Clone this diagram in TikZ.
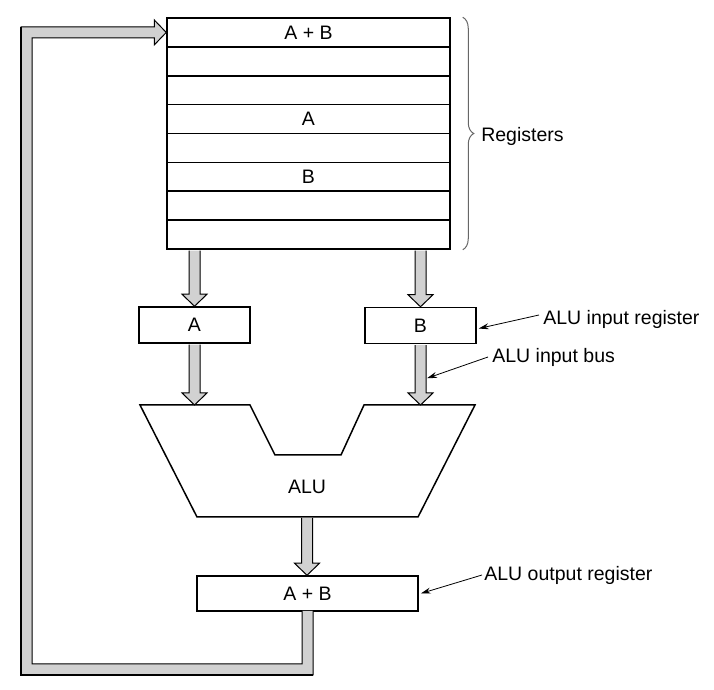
\documentclass[tikz,border=0pt]{standalone}
\usepackage{fontspec}
\setmainfont{Liberation Sans}
\usetikzlibrary{calc,arrows.meta,decorations.pathreplacing}
\def\RegWidth{141.5pt}
\def\RowHeight{14.44pt}
\def\BusHalf{2.75pt}
\def\HeadHalf{6.25pt}
\def\HeadLen{6pt}
\tikzset{
	box/.style={draw, line width=0.75pt, inner sep=0pt},
	regrow/.style={box, minimum width=\RegWidth, minimum height=\RowHeight},
	latch/.style={box, minimum width=55.5pt, minimum height=18pt},
	bus/.style={draw, fill=black!18, line width=0.5pt, line join=miter},
	note/.style={line width=0.4pt, -{Stealth[length=5pt,width=3pt]}},
	lbl/.style={anchor=west, inner sep=0pt},
	every node/.style={font=\fontsize{9.75pt}{11pt}\selectfont},
}
% fat vertical bus from #1 down to #2
\newcommand\busdown[2]{%
	\path[bus] let \p1=(#1), \p2=(#2) in
		(\x1-\BusHalf,\y1-0.4pt) -- (\x1-\BusHalf,\y2+\HeadLen) -- (\x1-\HeadHalf,\y2+\HeadLen)
		-- (\x1,\y2) -- (\x1+\HeadHalf,\y2+\HeadLen) -- (\x1+\BusHalf,\y2+\HeadLen)
		-- (\x1+\BusHalf,\y1-0.4pt);
}

\begin{document}
\begin{tikzpicture}[x=0.5pt,y=-0.5pt]
	\useasboundingbox (0,0) rectangle (714,690);
	% register file
	\foreach \i/\t in {1/A + B,2/,3/,4/A,5/,6/B,7/,8/}
		\node[regrow] (r\i) at (308.5,{18+(\i-0.5)*28.875}) {\t};
	\draw[draw=black!60, line width=0.5pt, decorate, decoration={brace, amplitude=5.5pt}]
		([xshift=6pt]r1.north east) -- ([xshift=6pt]r8.south east)
		node[lbl, midway, xshift=9pt, yshift=-1.5pt] (regs) {Registers};
	% 
	\node[latch] (inA) at (194.5,325) {A};
	\node[latch] (inB) at (420.5,325.5) {B};
	\node[latch, minimum width=110.5pt, minimum height=17.5pt] (outR) at (307.5,593.5) {A + B};
	% 
	\coordinate (aluTop) at (307,405);
	\coordinate (aluBot) at (307,517);
	\coordinate (loopBL) at (26.5,669.5);
	\draw[box, line join=miter] (140,405) -- (250,405) -- (275,455) -- (341,455) -- (364,405)
		-- (475,405) -- (418,517) -- (197,517) -- cycle;
	\node (alu) at (307,487) {ALU};
	% 
	\busdown{r8.south -| inA}{inA.north}
	\busdown{r8.south -| inB}{inB.north}
	\busdown{inA.south}{inA.south |- aluTop}
	\busdown{inB.south}{inB.south |- aluTop}
	\busdown{aluBot}{aluBot |- outR.north}
	% 
	\path[bus] let \p1=(outR.south), \p2=(r1.west), \p3=(loopBL) in
		(\x1+\BusHalf,\y1+0.4pt) -- (\x1+\BusHalf,\y3-\BusHalf) -- (\x3-\BusHalf,\y3-\BusHalf)
		-- (\x3-\BusHalf,\y2+\BusHalf) -- (\x2-\HeadLen,\y2+\BusHalf) -- (\x2-\HeadLen,\y2+\HeadHalf)
		-- (\x2,\y2) -- (\x2-\HeadLen,\y2-\HeadHalf) -- (\x2-\HeadLen,\y2-\BusHalf)
		-- (\x3+\BusHalf,\y2-\BusHalf) -- (\x3+\BusHalf,\y3+\BusHalf) -- (\x1-\BusHalf,\y3+\BusHalf)
		-- (\x1-\BusHalf,\y1+0.4pt);
	\draw[line width=1.1pt] let \p1=(outR.south), \p2=(r1.west), \p3=(loopBL) in
		(\x1+\BusHalf,\y3-\BusHalf) -- (\x3-\BusHalf,\y3-\BusHalf) -- (\x3-\BusHalf,\y2+\BusHalf);
	% labels
	\node[lbl] (lblInReg) at (543,319) {ALU input register};
	\node[lbl] (lblInBus) at (492,357) {ALU input bus};
	\node[lbl] (lblOutReg) at (484,575) {ALU output register};
	\draw[note] ([xshift=-2pt,yshift=2pt]lblInReg.west) -- ([xshift=1pt,yshift=-1.5pt]inB.east);
	\draw[note] ([xshift=-2pt]lblInBus.west) -- ([xshift=\BusHalf+0.5pt,yshift=-17pt]inB.south);
	\draw[note] ([xshift=-1pt]lblOutReg.west) -- ([xshift=1pt]outR.east);
\end{tikzpicture}
\end{document}
